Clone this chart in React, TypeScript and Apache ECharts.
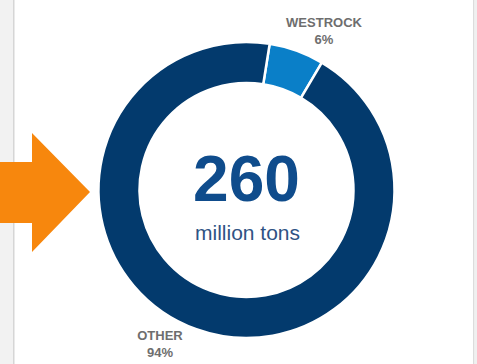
import React, { useEffect, useRef } from "react";
import * as echarts from "echarts";

const categories = ["WESTROCK", "OTHER"];
const shares = [6, 94];
const sliceColors = ["#0a7fc8", "#033a6d"];
const totalValue = "260";
const totalUnit = "million tons";

export default function App() {
  const ref = useRef<HTMLDivElement>(null);
  useEffect(() => {
    document.body.style.margin = "0";
    const chart = echarts.init(ref.current!, undefined, { renderer: "svg" });
    const cx = 246.5;
    const cy = 190;
    chart.setOption({
      animation: false,
      backgroundColor: "#ffffff",
      graphic: [
        { type: "rect", shape: { x: 0, y: 0, width: 13, height: 364 }, style: { fill: "#f2f2f2" }, z: 0 },
        { type: "rect", shape: { x: 13, y: 0, width: 1.5, height: 364 }, style: { fill: "#d6d6d6" }, z: 0 },
        { type: "rect", shape: { x: 473, y: 0, width: 1.5, height: 364 }, style: { fill: "#dcdcdc" }, z: 0 },
        { type: "rect", shape: { x: 474.5, y: 0, width: 3, height: 364 }, style: { fill: "#f0f0f0" }, z: 0 },
        {
          type: "polygon",
          shape: { points: [[0, 162], [32, 162], [32, 133], [90, 192], [32, 252], [32, 223], [0, 223]] },
          style: { fill: "#f7870d" },
          z: 1,
        },
        {
          type: "text",
          x: cx,
          y: 179,
          style: {
            text: totalValue,
            font: "bold 64px 'Liberation Sans', Arial, sans-serif",
            fill: "#0f4c8c",
            align: "center",
            verticalAlign: "middle",
          },
          z: 5,
        },
        {
          type: "text",
          x: cx + 1,
          y: 232,
          style: {
            text: totalUnit,
            font: "21px 'Liberation Sans', Arial, sans-serif",
            fill: "#2f5384",
            align: "center",
            verticalAlign: "middle",
          },
          z: 5,
        },
        {
          type: "text",
          x: 324,
          y: 30.5,
          style: {
            text: `${categories[0]}\n${shares[0]}%`,
            font: "bold 13px 'Liberation Sans', Arial, sans-serif",
            lineHeight: 17,
            fill: "#6e6e6e",
            align: "center",
            verticalAlign: "middle",
          },
          z: 5,
        },
        {
          type: "text",
          x: 160,
          y: 343.5,
          style: {
            text: `${categories[1]}\n${shares[1]}%`,
            font: "bold 13px 'Liberation Sans', Arial, sans-serif",
            lineHeight: 17,
            fill: "#6e6e6e",
            align: "center",
            verticalAlign: "middle",
          },
          z: 5,
        },
      ],
      series: [
        {
          type: "pie",
          center: [cx, cy],
          radius: [107, 148],
          startAngle: 81,
          clockwise: true,
          label: { show: false },
          labelLine: { show: false },
          emphasis: { disabled: true },
          itemStyle: { borderColor: "#ffffff", borderWidth: 2.5 },
          data: categories.map((name, i) => ({
            name,
            value: shares[i],
            itemStyle: { color: sliceColors[i] },
          })),
        },
      ],
    });
    return () => chart.dispose();
  }, []);
  return <div ref={ref} style={{ width: 477, height: 364, position: "absolute", left: 0, top: 0 }} />;
}
